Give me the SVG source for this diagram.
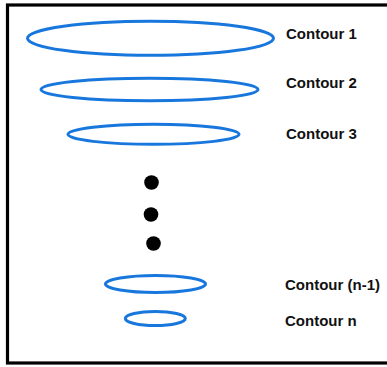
<svg xmlns="http://www.w3.org/2000/svg" width="387" height="367" viewBox="0 0 387 367">
  <style>
    .contour { fill: none; stroke: #1877dd; stroke-width: 3; }
    .label { font-family: "Liberation Sans", Arial, sans-serif; font-weight: bold; font-size: 15px; fill: #111; }
    .dot { fill: #000; }
  </style>
  <rect x="0" y="0" width="387" height="367" fill="#fff"/>
  <rect id="frame" x="7.5" y="5" width="385" height="358" fill="none" stroke="#000" stroke-width="3.2"/>
  <g id="contour1">
    <ellipse class="contour" cx="150.5" cy="38.3" rx="123" ry="17"/>
    <text class="label" x="286" y="39">Contour 1</text>
  </g>
  <g id="contour2">
    <ellipse class="contour" cx="149.5" cy="89.5" rx="108.5" ry="11.3"/>
    <text class="label" x="286" y="87.5">Contour 2</text>
  </g>
  <g id="contour3">
    <ellipse class="contour" cx="153.5" cy="134.3" rx="85.5" ry="10"/>
    <text class="label" x="286" y="139">Contour 3</text>
  </g>
  <g id="ellipsis">
    <circle class="dot" cx="151.5" cy="182.5" r="7.3"/>
    <circle class="dot" cx="151" cy="214.5" r="7.3"/>
    <circle class="dot" cx="153.5" cy="243.5" r="7.3"/>
  </g>
  <g id="contour-n-1">
    <ellipse class="contour" cx="155.5" cy="284" rx="50" ry="8.5"/>
    <text class="label" x="285" y="289.5">Contour (n-1)</text>
  </g>
  <g id="contour-n">
    <ellipse class="contour" cx="155.3" cy="318.5" rx="30" ry="7"/>
    <text class="label" x="285" y="326">Contour n</text>
  </g>
</svg>
